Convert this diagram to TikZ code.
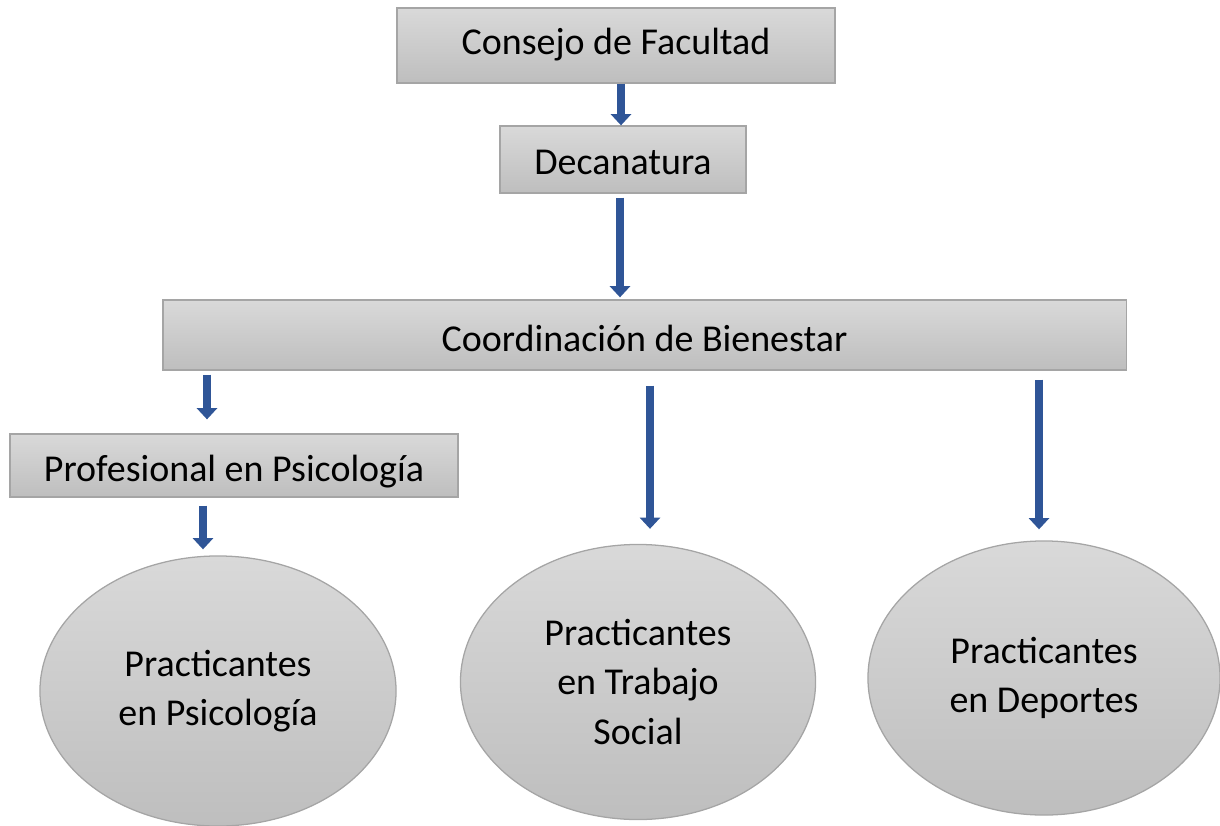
\documentclass[tikz,border=0pt]{standalone}
\usepackage{fontspec}
\setmainfont{Carlito}
\usetikzlibrary{shapes.geometric,arrows.meta}
\definecolor{boxtop}{HTML}{D9D9D9}
\definecolor{boxbot}{HTML}{BEBEBE}
\definecolor{boxline}{HTML}{A5A5A5}
\definecolor{arrblue}{HTML}{2F5597}
\newcommand{\lowtext}[2]{\raisebox{-#1}[0pt][0pt]{#2}}
\begin{document}
\begin{tikzpicture}[x=0.025cm,y=-0.025cm,
    box/.style={rectangle,draw=boxline,line width=0.9pt,top color=boxtop,bottom color=boxbot,
      inner sep=0pt,font=\fontsize{27}{35}\selectfont},
    oval/.style={ellipse,draw=boxline,line width=0.9pt,top color=boxtop,bottom color=boxbot,
      inner sep=0pt,align=center,font=\fontsize{27}{35}\selectfont},
    arr/.style={draw=arrblue,line width=0.22cm,-{Triangle[width=0.5cm,length=0.28cm]}}]
      \useasboundingbox (0,0) rectangle (1220,826);
      \node[box,minimum width=10.95cm,minimum height=1.875cm] (cons) at (616,45.5) {\lowtext{6.7pt}{Consejo de Facultad}};
      \node[box,minimum width=6.15cm,minimum height=1.675cm] (dec) at (623,159.5) {\lowtext{11pt}{Decanatura}};
      \node[box,minimum width=24.075cm,minimum height=1.75cm] (coord) at (644.5,335) {\lowtext{12pt}{Coordinación de Bienestar}};
      \node[box,minimum width=11.2cm,minimum height=1.575cm] (prof) at (234,465.5) {\lowtext{11.7pt}{Profesional en Psicología}};
      \node[oval,minimum width=8.9cm,minimum height=6.75cm] (psi) at (218,691) {Practicantes\\en Psicología};
      \node[oval,minimum width=8.875cm,minimum height=6.875cm] (trab) at (638,682) {Practicantes\\en Trabajo\\Social};
      \node[oval,minimum width=8.8cm,minimum height=6.85cm] (dep) at (1044,678) {Practicantes\\en Deportes};
      \begin{scope}
        \draw[arr] ([xshift=0.125cm]cons.south) -- ([xshift=0.125cm]cons.south |- dec.north);
        \draw[arr,shorten <=0.1cm,shorten >=0.05cm] ([xshift=-0.075cm]dec.south) -- ([xshift=-0.075cm]dec.south |- coord.north);
        \draw[arr,shorten <=0.1cm,shorten >=0.35cm] ([xshift=-0.675cm]prof.north |- coord.south) -- ([xshift=-0.675cm]prof.north);
        \draw[arr,shorten <=0.375cm,shorten >=0.375cm] ([xshift=0.3cm]trab.north |- coord.south) -- ([xshift=0.3cm]trab.north);
        \draw[arr,shorten <=0.225cm,shorten >=0.275cm] ([xshift=-0.125cm]dep.north |- coord.south) -- ([xshift=-0.125cm]dep.north);
        \draw[arr,shorten <=0.2cm,shorten >=0.15cm] ([xshift=-0.375cm]psi.north |- prof.south) -- ([xshift=-0.375cm]psi.north);
      \end{scope}
    \end{tikzpicture}
\end{document}
